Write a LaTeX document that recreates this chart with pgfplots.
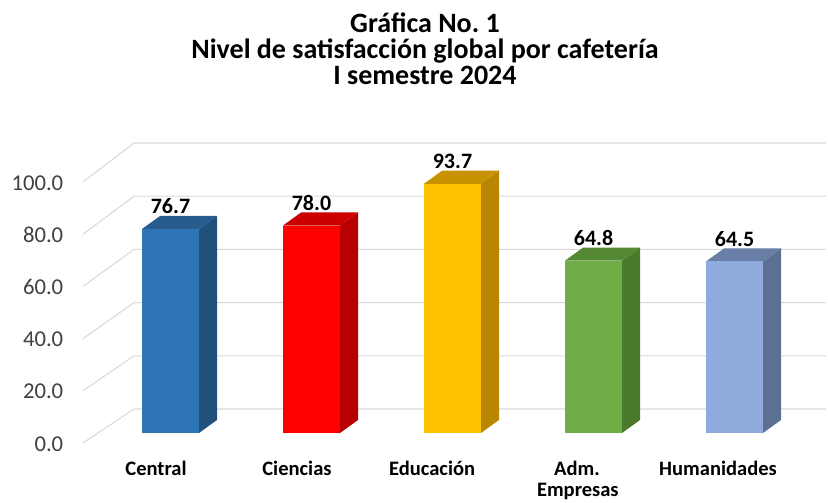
\documentclass[border=0pt]{standalone}
\usepackage{pgfplots}
\pgfplotsset{compat=1.18}
\usepackage{fontspec}
\setmainfont{Carlito}
\definecolor{gridc}{RGB}{217,217,217}
\definecolor{tickc}{RGB}{64,64,64}
\definecolor{blueF}{RGB}{46,117,182}
\definecolor{blueS}{RGB}{33,80,124}
\definecolor{blueT}{RGB}{38,92,142}
\definecolor{redF}{RGB}{255,0,0}
\definecolor{redS}{RGB}{185,0,0}
\definecolor{redT}{RGB}{205,0,0}
\definecolor{yelF}{RGB}{255,192,0}
\definecolor{yelS}{RGB}{184,134,0}
\definecolor{yelT}{RGB}{200,146,0}
\definecolor{grnF}{RGB}{112,173,71}
\definecolor{grnS}{RGB}{74,122,44}
\definecolor{grnT}{RGB}{84,136,50}
\definecolor{lbF}{RGB}{143,170,220}
\definecolor{lbS}{RGB}{92,112,148}
\definecolor{lbT}{RGB}{104,126,166}
\begin{document}
\begin{tikzpicture}
\begin{axis}[
  x=105.75pt, y=1.995pt,
  xmin=-1.2092, xmax=4.6631, ymin=-25.94, ymax=162.78,
  hide axis, clip=false,
]
% invisible frame fixing the picture size
\addplot[draw=none] coordinates {(-1.2092,-25.94) (4.6631,162.78)};
% back wall gridlines with floor perspective
\addplot[gridc, line width=0.8pt] coordinates {(-0.621,-3.76) (-0.259,9.02) (4.649,9.02)};
\addplot[gridc, line width=0.8pt] coordinates {(-0.621,15.86) (-0.259,29.02) (4.649,29.02)};
\addplot[gridc, line width=0.8pt] coordinates {(-0.621,35.48) (-0.259,49.02) (4.649,49.02)};
\addplot[gridc, line width=0.8pt] coordinates {(-0.621,55.10) (-0.259,69.02) (4.649,69.02)};
\addplot[gridc, line width=0.8pt] coordinates {(-0.621,74.72) (-0.259,89.02) (4.649,89.02)};
\addplot[gridc, line width=0.8pt] coordinates {(-0.621,94.34) (-0.259,109.02) (4.649,109.02)};
% Bar 0: Central 76.7
\addplot[fill=blueS, draw=none] coordinates {(0.202,0) (0.330,4.9) (0.330,81.6) (0.202,76.7)} --cycle;
\addplot[fill=blueT, draw=none] coordinates {(-0.202,76.7) (0.202,76.7) (0.330,81.6) (-0.074,81.6)} --cycle;
\addplot[fill=blueF, draw=none] coordinates {(-0.202,0) (0.202,0) (0.202,76.7) (-0.202,76.7)} --cycle;
% Bar 1: Ciencias 78.0
\addplot[fill=redS, draw=none] coordinates {(1.202,0) (1.330,4.9) (1.330,82.9) (1.202,78.0)} --cycle;
\addplot[fill=redT, draw=none] coordinates {(0.798,78.0) (1.202,78.0) (1.330,82.9) (0.926,82.9)} --cycle;
\addplot[fill=redF, draw=none] coordinates {(0.798,0) (1.202,0) (1.202,78.0) (0.798,78.0)} --cycle;
% Bar 2: Educacion 93.7
\addplot[fill=yelS, draw=none] coordinates {(2.202,0) (2.330,4.9) (2.330,98.6) (2.202,93.7)} --cycle;
\addplot[fill=yelT, draw=none] coordinates {(1.798,93.7) (2.202,93.7) (2.330,98.6) (1.926,98.6)} --cycle;
\addplot[fill=yelF, draw=none] coordinates {(1.798,0) (2.202,0) (2.202,93.7) (1.798,93.7)} --cycle;
% Bar 3: Adm. Empresas 64.8
\addplot[fill=grnS, draw=none] coordinates {(3.202,0) (3.330,4.9) (3.330,69.7) (3.202,64.8)} --cycle;
\addplot[fill=grnT, draw=none] coordinates {(2.798,64.8) (3.202,64.8) (3.330,69.7) (2.926,69.7)} --cycle;
\addplot[fill=grnF, draw=none] coordinates {(2.798,0) (3.202,0) (3.202,64.8) (2.798,64.8)} --cycle;
% Bar 4: Humanidades 64.5
\addplot[fill=lbS, draw=none] coordinates {(4.202,0) (4.330,4.9) (4.330,69.4) (4.202,64.5)} --cycle;
\addplot[fill=lbT, draw=none] coordinates {(3.798,64.5) (4.202,64.5) (4.330,69.4) (3.926,69.4)} --cycle;
\addplot[fill=lbF, draw=none] coordinates {(3.798,0) (4.202,0) (4.202,64.5) (3.798,64.5)} --cycle;
% value labels
\addplot[draw=none, point meta=y,
  nodes near coords={\pgfmathprintnumber[fixed,fixed zerofill,precision=1,assume math mode=true]{\pgfplotspointmeta}},
  every node near coord/.style={anchor=base, yshift=11.5pt, inner sep=0pt, text=black,
    font=\fontsize{16.5}{20}\selectfont\bfseries}]
  coordinates {(0,76.7) (1,78.0) (2,93.7) (3,64.8) (4,64.5)};
% y tick labels (front plane)
\begin{scope}[every node/.style={anchor=base east, inner sep=0pt, text=tickc, font=\fontsize{17}{20}\selectfont}]
\node at (axis cs:-0.759,-6.77) {0.0};
\node at (axis cs:-0.759,12.85) {20.0};
\node at (axis cs:-0.759,32.47) {40.0};
\node at (axis cs:-0.759,52.09) {60.0};
\node at (axis cs:-0.759,71.71) {80.0};
\node at (axis cs:-0.759,91.33) {100.0};
\end{scope}
% category labels
\begin{scope}[every node/.style={anchor=base, inner sep=0pt, text=black, font=\fontsize{15.4}{18}\selectfont\bfseries}]
\node at (axis cs:-0.103,-15.8) {Central};
\node at (axis cs:0.897,-15.8) {Ciencias};
\node at (axis cs:1.855,-15.8) {Educación};
\node at (axis cs:2.883,-15.8) {Adm.};
\node at (axis cs:2.889,-23.7) {Empresas};
\node at (axis cs:3.883,-15.8) {Humanidades};
\end{scope}
% title
\begin{scope}[every node/.style={anchor=base, inner sep=0pt, text=black, font=\fontsize{21}{24}\selectfont\bfseries}]
\node at (axis cs:1.805,150.4) {Gráfica No.\ 1};
\node at (axis cs:1.805,140.8) {Nivel de satisfacción global por cafetería};
\node at (axis cs:1.805,131.2) {I semestre 2024};
\end{scope}
\end{axis}
\end{tikzpicture}
\end{document}
